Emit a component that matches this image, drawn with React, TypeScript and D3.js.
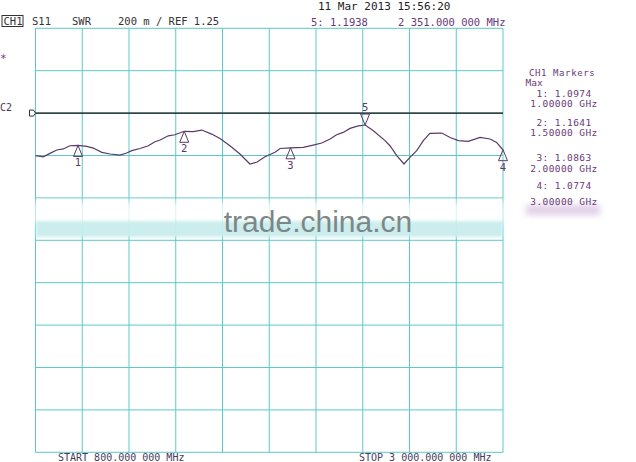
import React from "react";
import * as d3 from "d3";

// ---- data ----
const freqGHz = [
  0.8, 0.837, 0.868, 0.9, 0.931, 0.962, 1.0, 1.041, 1.072, 1.112, 1.151, 1.198, 1.229, 1.253, 1.292,
  1.331, 1.362, 1.386, 1.425, 1.456, 1.5, 1.543, 1.582, 1.629, 1.668, 1.715, 1.762, 1.809, 1.841,
  1.88, 1.927, 1.951, 2.0, 2.06, 2.107, 2.147, 2.186, 2.217, 2.248, 2.28, 2.319, 2.351, 2.39, 2.445,
  2.468, 2.5, 2.534, 2.562, 2.594, 2.625, 2.656, 2.712, 2.751, 2.79, 2.837, 2.892, 2.939, 2.97, 2.994, 3.0,
];
const swrValues = [
  1.049, 1.044, 1.06, 1.076, 1.081, 1.096, 1.0974, 1.093, 1.085, 1.065, 1.057, 1.052, 1.062, 1.073, 1.083,
  1.096, 1.115, 1.123, 1.143, 1.148, 1.1641, 1.163, 1.17, 1.151, 1.13, 1.096, 1.057, 1.01, 1.018,
  1.044, 1.065, 1.083, 1.0863, 1.088, 1.099, 1.109, 1.128, 1.148, 1.159, 1.178, 1.19, 1.1938, 1.167, 1.12,
  1.096, 1.049, 1.01, 1.041, 1.073, 1.12, 1.154, 1.156, 1.135, 1.12, 1.117, 1.135, 1.128, 1.112, 1.083, 1.0774,
];

const markerIds = [1, 2, 3, 4, 5];
const markerFreq = [1.0, 1.5, 2.0, 3.0, 2.351];
const markerValue = [1.0974, 1.1641, 1.0863, 1.0774, 1.1938];
const markerFreqLabels = ["1.00000 GHz", "1.50000 GHz", "2.00000 GHz", "3.00000 GHz"];

const refValue = 1.25;
const perDiv = 0.2;
const refDiv = 2; // reference line position (divisions from top)
const startGHz = 0.8;
const stopGHz = 3.0;
const xDivs = 10;
const yDivs = 10;

const headerTexts = ["S11", "SWR", "200 m / REF 1.25"];
const dateText = "11 Mar 2013  15:56:20";
const activeMarkerText = "5: 1.1938";
const activeMarkerFreq = "2 351.000 000 MHz";
const startText = "START  800.000 000 MHz";
const stopText = "STOP 3 000.000 000 MHz";

const W = 636;
const H = 462;
const L = 35.5;
const R = 503;
const T = 28.3;
const B = 452.3;

const GRID = "#5cc9c9";
const PURPLE = "#6b3a78";
const TRACE = "#5a3a68";
const MONO = "'DejaVu Sans Mono', monospace";

export default function App() {
  const x = d3.scaleLinear().domain([startGHz, stopGHz]).range([L, R]);
  const topVal = refValue + refDiv * perDiv;
  const botVal = topVal - yDivs * perDiv;
  const y = d3.scaleLinear().domain([botVal, topVal]).range([B, T]);

  const xGrid = d3.range(xDivs + 1).map((i) => startGHz + (i * (stopGHz - startGHz)) / xDivs);
  const yGrid = d3.range(yDivs + 1).map((i) => botVal + i * perDiv);

  const pts = freqGHz.map((f, i) => [f, swrValues[i]] as [number, number]);
  const line = d3
    .line<[number, number]>()
    .x((d) => x(d[0]))
    .y((d) => y(d[1]));

  const yRef = y(refValue);
  const panelY1 = [96.5, 126, 161, 189];
  const panelY2 = [106.5, 136, 172, 205];

  return (
    <svg
      width={W}
      height={H}
      style={{ position: "absolute", left: 0, top: 0, background: "#fff" }}
    >
      <defs>
        <filter id="blur" x="-20%" y="-50%" width="140%" height="200%">
          <feGaussianBlur stdDeviation="3" />
        </filter>
        <filter id="blur2" x="-5%" y="-50%" width="110%" height="200%">
          <feGaussianBlur stdDeviation="1.5" />
        </filter>
      </defs>
      <rect x={0} y={0} width={W} height={H} fill="#fff" />

      {/* grid */}
      {xGrid.map((f, i) => (
        <line key={"vx" + i} x1={x(f)} x2={x(f)} y1={T} y2={B} stroke={GRID} strokeWidth={1} />
      ))}
      {yGrid.map((v, i) => (
        <line key={"hy" + i} x1={L} x2={R} y1={y(v)} y2={y(v)} stroke={GRID} strokeWidth={1} />
      ))}

      {/* reference line */}
      <line x1={L} x2={R} y1={yRef} y2={yRef} stroke="#111" strokeWidth={1.2} />
      <path
        d={`M${L - 6},${yRef - 3} L${L - 2},${yRef - 3} L${L},${yRef} L${L - 2},${yRef + 3} L${L - 6},${yRef + 3} Z`}
        fill="#fff"
        stroke="#333"
        strokeWidth={1}
      />

      {/* trace */}
      <path d={line(pts) || ""} fill="none" stroke={TRACE} strokeWidth={1.2} />

      {/* markers */}
      {markerIds.map((id, i) => {
        const mx = x(markerFreq[i]);
        const my = y(markerValue[i]);
        if (id === 5) {
          return (
            <g key={"m" + id}>
              <path
                d={`M${mx},${my} L${mx - 4.5},${my - 11} L${mx + 4.5},${my - 11} Z`}
                fill="none"
                stroke={TRACE}
                strokeWidth={1}
              />
              <text x={mx} y={my - 14} fontSize={10.5} fontFamily={MONO} textAnchor="middle" fill={TRACE}>
                {id}
              </text>
            </g>
          );
        }
        return (
          <g key={"m" + id}>
            <path
              d={`M${mx},${my} L${mx - 4.5},${my + 11} L${mx + 4.5},${my + 11} Z`}
              fill="none"
              stroke={TRACE}
              strokeWidth={1}
            />
            <text x={mx} y={my + 21} fontSize={10.5} fontFamily={MONO} textAnchor="middle" fill={TRACE}>
              {id}
            </text>
          </g>
        );
      })}

      {/* watermark */}
      <rect x={L - 2} y={202} width={R - L + 4} height={22} fill="#fff" opacity={0.8} filter="url(#blur)" />
      <rect x={L} y={221} width={R - L} height={16} fill="#c9eded" opacity={0.95} filter="url(#blur2)" />
      <rect x={526} y={205} width={74} height={10} fill="#d9c2e2" opacity={0.8} filter="url(#blur)" />
      <text
        x={318}
        y={231.5}
        fontSize={30}
        fontFamily="'Liberation Sans', Arial, sans-serif"
        textAnchor="middle"
        fill="#7d8787"
      >
        trade.china.cn
      </text>

      {/* header */}
      <rect x={2} y={15.5} width={21} height={11} fill="none" stroke="#333" strokeWidth={1} />
      <text x={3.5} y={25} fontSize={10.5} fontFamily={MONO} fill="#333">
        CH1
      </text>
      <text x={32} y={25} fontSize={10.5} fontFamily={MONO} fill="#333">
        {headerTexts[0]}
      </text>
      <text x={72} y={25} fontSize={10.5} fontFamily={MONO} fill="#333">
        {headerTexts[1]}
      </text>
      <text x={118} y={25} fontSize={10.5} fontFamily={MONO} fill="#333">
        {headerTexts[2]}
      </text>
      <text x={318} y={10} fontSize={11} fontFamily={MONO} fill="#222">
        {dateText}
      </text>
      <text x={311} y={25.5} fontSize={10.5} fontFamily={MONO} fill={PURPLE}>
        {activeMarkerText}
      </text>
      <text x={398} y={25.5} fontSize={10.5} fontFamily={MONO} fill={PURPLE}>
        {activeMarkerFreq}
      </text>

      {/* left labels */}
      <text x={0} y={62} fontSize={11} fontFamily={MONO} fill={PURPLE}>
        *
      </text>
      <text x={0} y={110.5} fontSize={10} fontFamily={MONO} fill="#4a3a5a">
        C2
      </text>

      {/* right marker panel */}
      <text x={529} y={76} fontSize={9} letterSpacing={0.6} fontFamily={MONO} fill={PURPLE}>
        CH1 Markers
      </text>
      <text x={525.5} y={86} fontSize={9.5} fontFamily={MONO} fill={PURPLE}>
        Max
      </text>
      {markerIds.slice(0, 4).map((id, i) => (
        <g key={"p" + id}>
          <text x={564} y={panelY1[i]} fontSize={9.5} letterSpacing={0.4} fontFamily={MONO} textAnchor="middle" fill={PURPLE}>
            {`${id}: ${markerValue[i].toFixed(4)}`}
          </text>
          <text x={564} y={panelY2[i]} fontSize={9.5} letterSpacing={0.4} fontFamily={MONO} textAnchor="middle" fill={PURPLE}>
            {markerFreqLabels[i]}
          </text>
        </g>
      ))}

      {/* bottom */}
      <text x={58} y={461} fontSize={10} fontFamily={MONO} fill="#4a3a5a">
        {startText}
      </text>
      <text x={359} y={461} fontSize={10} fontFamily={MONO} fill="#4a3a5a">
        {stopText}
      </text>
    </svg>
  );
}
